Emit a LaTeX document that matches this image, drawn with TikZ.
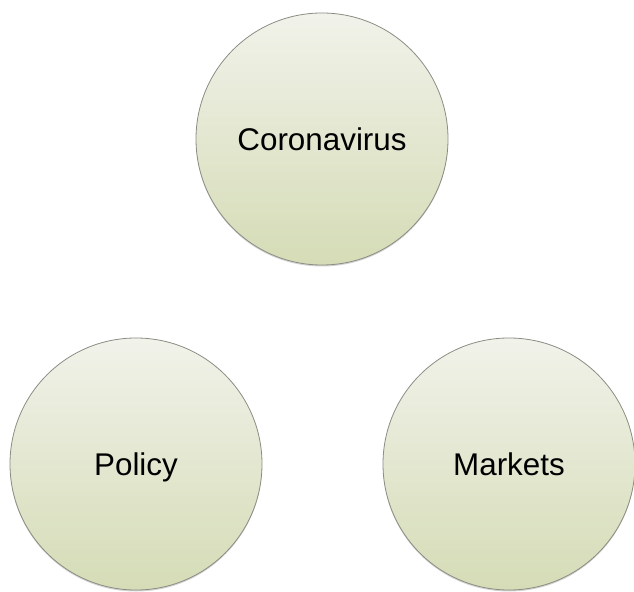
\documentclass[tikz,border=0pt]{standalone}
\usepackage{fontspec}
\setmainfont{Liberation Sans}
\usetikzlibrary{shadows}
\definecolor{bubbletop}{HTML}{F1F2EA}
\definecolor{bubblebot}{HTML}{D5DCB6}
\definecolor{bubbleline}{HTML}{8C8C84}
\tikzset{bubble/.style={circle, draw=bubbleline, line width=0.8bp,
    top color=bubbletop, bottom color=bubblebot, minimum size=252bp,
    inner sep=0pt, font=\fontsize{31.5}{36}\selectfont,
    text height=22.5bp, text depth=0pt,
    drop shadow={shadow xshift=0bp, shadow yshift=-1.5bp, opacity=0.35}}}

\begin{document}
\begin{tikzpicture}[x=1bp, y=1bp]
      \useasboundingbox (0,0) rectangle (634,592);

      % the three bubbles
      \node[bubble] (virus) at (322,453) {Coronavirus};
      \node[bubble] (policy) at (136,128) {Policy};
      \node[bubble] (markets) at (509,128) {Markets};
    \end{tikzpicture}
\end{document}
